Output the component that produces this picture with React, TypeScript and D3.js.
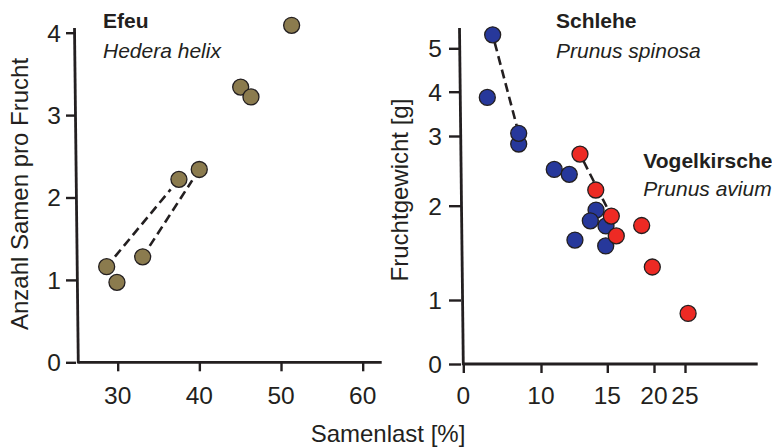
import * as d3 from 'd3';
import { useEffect, useRef } from 'react';

// Efeu (Hedera helix): Samenlast [%] vs. Anzahl Samen pro Frucht
const efeuX = [28.65, 29.91, 33.06, 37.5, 39.99, 45.06, 46.32, 51.3];
const efeuY = [1.16, 0.97, 1.28, 2.22, 2.34, 3.34, 3.22, 4.09];
const efeuLinks = [[0, 3], [2, 4]];

// Schlehe (Prunus spinosa): Samenlast [%] vs. Fruchtgewicht [g]
const schleheX = [3.78, 3.09, 7.13, 7.13, 11.0, 12.13, 14.15, 13.72, 14.9, 12.56, 14.88];
const schleheY = [5.31, 3.87, 2.885, 3.06, 2.52, 2.45, 1.954, 1.84, 1.785, 1.636, 1.573];
const schleheLinks = [[0, 3]];

// Vogelkirsche (Prunus avium)
const vogelX = [12.94, 14.13, 15.43, 18.68, 15.96, 19.82, 25.5];
const vogelY = [2.74, 2.225, 1.89, 1.79, 1.68, 1.35, 0.79];
const vogelLinks = [[0, 2]];

const leftXTicks = [30, 40, 50, 60];
const leftYTicks = [0, 1, 2, 3, 4];
const rightXTicks = [0, 10, 15, 20, 25];
const rightYTicks = [0, 1, 2, 3, 4, 5];

const FONT = '"Liberation Sans", Arial, Helvetica, sans-serif';
const TICK_FONT = '"Liberation Sans Narrow", "Arial Narrow", "Liberation Sans", sans-serif';
const INK = '#231f20';

type Lin = d3.ScaleLinear<number, number>;

export default function App() {
    const ref = useRef<SVGSVGElement | null>(null);

    useEffect(() => {
        if (!ref.current) return;
        const svg = d3.select(ref.current);
        svg.selectAll('*').remove();

        // left panel scales
        const xL = d3.scaleLinear().domain([25.14, 62.33]).range([78, 381.7]);
        const yL = d3.scaleLinear().domain([0, 4]).range([362.3, 32.7]);
        // right panel: the original axis is hand-spaced, so piecewise scales
        const xR = d3.scaleLinear().domain(rightXTicks).range([463.3, 541, 607.3, 654, 685]);
        const yR = d3.scaleLinear().domain(rightYTicks).range([364, 300, 205.7, 136, 91.7, 48.3]);

        const tickLines = (g: d3.Selection<SVGGElement, unknown, null, undefined>) => {
            g.select('.domain').remove();
            g.selectAll('text').remove();
            g.selectAll('line').attr('stroke', INK).attr('stroke-width', 2.4);
        };

        // tick marks
        svg.append('g')
            .attr('transform', `translate(0,${yL(0)})`)
            .call(d3.axisBottom(xL).tickValues(leftXTicks).tickSize(9).tickSizeOuter(0))
            .call(tickLines);
        svg.append('g')
            .attr('transform', `translate(76,0)`)
            .call(d3.axisLeft(yL).tickValues(leftYTicks).tickSize(10).tickSizeOuter(0))
            .call(tickLines);
        svg.append('g')
            .attr('transform', `translate(0,${yR(0)})`)
            .call(d3.axisBottom(xR).tickValues(rightXTicks).tickSize(9).tickSizeOuter(0))
            .call(tickLines);
        svg.append('g')
            .attr('transform', `translate(461,0)`)
            .call(d3.axisLeft(yR).tickValues(rightYTicks).tickSize(12).tickSizeOuter(0))
            .call(tickLines);

        // tick labels
        const xLabels = (ticks: number[], s: Lin, baseline: number) =>
            svg.append('g')
                .selectAll('text')
                .data(ticks)
                .join('text')
                .attr('x', (d) => s(d))
                .attr('y', baseline)
                .attr('text-anchor', 'middle')
                .attr('fill', INK)
                .style('font-family', TICK_FONT)
                .style('font-size', '24.5px')
                .text((d) => String(d));
        const yLabels = (ticks: number[], s: Lin, right: number) =>
            svg.append('g')
                .selectAll('text')
                .data(ticks)
                .join('text')
                .attr('x', right)
                .attr('y', (d) => s(d))
                .attr('dy', '0.36em')
                .attr('text-anchor', 'end')
                .attr('fill', INK)
                .style('font-family', TICK_FONT)
                .style('font-size', '24.5px')
                .text((d) => String(d));
        xLabels(leftXTicks, xL, 404);
        yLabels(leftYTicks, yL, 61);
        xLabels(rightXTicks, xR, 404);
        yLabels(rightYTicks, yR, 442);

        const axisLines = [
            [74.5, 28, 78.3, yL(0) + 1.2],
            [78.3, yL(0), 381.7, yL(0)],
            [459.5, 28, 463.3, yR(0) + 1.2],
            [463.3, yR(0), 757.7, yR(0)],
        ];
        svg.append('g')
            .selectAll('line')
            .data(axisLines)
            .join('line')
            .attr('x1', (d) => d[0])
            .attr('y1', (d) => d[1])
            .attr('x2', (d) => d[2])
            .attr('y2', (d) => d[3])
            .attr('stroke', INK)
            .attr('stroke-width', 2.8);

        // dashed connectors
        const drawLinks = (xs: number[], ys: number[], links: number[][], sx: Lin, sy: Lin, gap: number) => {
            svg.append('g')
                .selectAll('line')
                .data(links)
                .join('line')
                .each(function ([a, b]) {
                    const x1 = sx(xs[a]), y1 = sy(ys[a]);
                    const x2 = sx(xs[b]), y2 = sy(ys[b]);
                    const len = Math.hypot(x2 - x1, y2 - y1);
                    const ux = (x2 - x1) / len, uy = (y2 - y1) / len;
                    d3.select(this)
                        .attr('x1', x1 + ux * gap)
                        .attr('y1', y1 + uy * gap)
                        .attr('x2', x2 - ux * gap)
                        .attr('y2', y2 - uy * gap);
                })
                .attr('stroke', INK)
                .attr('stroke-width', 2.6)
                .attr('stroke-dasharray', '9,5');
        };
        drawLinks(efeuX, efeuY, efeuLinks, xL, yL, 13);
        drawLinks(schleheX, schleheY, schleheLinks, xR, yR, 8);
        drawLinks(vogelX, vogelY, vogelLinks, xR, yR, 8);

        const drawDots = (xs: number[], ys: number[], fill: string, sx: Lin, sy: Lin) => {
            svg.append('g')
                .selectAll('circle')
                .data(xs.map((x, i) => [x, ys[i]]))
                .join('circle')
                .attr('cx', (d) => sx(d[0]))
                .attr('cy', (d) => sy(d[1]))
                .attr('r', 8)
                .attr('fill', fill)
                .attr('stroke', INK)
                .attr('stroke-width', 1.3);
        };
        drawDots(efeuX, efeuY, '#8b7b4e', xL, yL);
        drawDots(schleheX, schleheY, '#27389b', xR, yR);
        drawDots(vogelX, vogelY, '#ed2a24', xR, yR);

        // species labels
        const labels = [
            { t: 'Efeu', x: 103, y: 28, bold: true },
            { t: 'Hedera helix', x: 103, y: 58, bold: false },
            { t: 'Schlehe', x: 556, y: 28, bold: true },
            { t: 'Prunus spinosa', x: 556, y: 58, bold: false },
            { t: 'Vogelkirsche', x: 643.3, y: 167.5, bold: true },
            { t: 'Prunus avium', x: 643.3, y: 196, bold: false },
        ];
        svg.append('g')
            .selectAll('text')
            .data(labels)
            .join('text')
            .attr('x', (d) => d.x)
            .attr('y', (d) => d.y)
            .attr('fill', INK)
            .style('font-family', FONT)
            .style('font-size', '21px')
            .style('font-weight', (d) => (d.bold ? 'bold' : 'normal'))
            .style('font-style', (d) => (d.bold ? 'normal' : 'italic'))
            .attr('textLength', (d) => (d.bold ? null : null))
            .text((d) => d.t);

        // axis titles
        const title = (t: string, x: number, y: number, rot: number) =>
            svg.append('text')
                .attr('transform', `translate(${x},${y}) rotate(${rot})`)
                .attr('text-anchor', 'middle')
                .attr('fill', INK)
                .style('font-family', FONT)
                .style('font-size', '24px')
                .text(t);
        title('Anzahl Samen pro Frucht', 28, 194, -90);
        title('Fruchtgewicht [g]', 408, 190, -90);
        title('Samenlast [%]', 388, 442, 0);
    }, []);

    return (
        <svg
            ref={ref}
            width={772}
            height={448}
            style={{ position: 'absolute', left: 0, top: 0, background: '#fff' }}
        />
    );
}
